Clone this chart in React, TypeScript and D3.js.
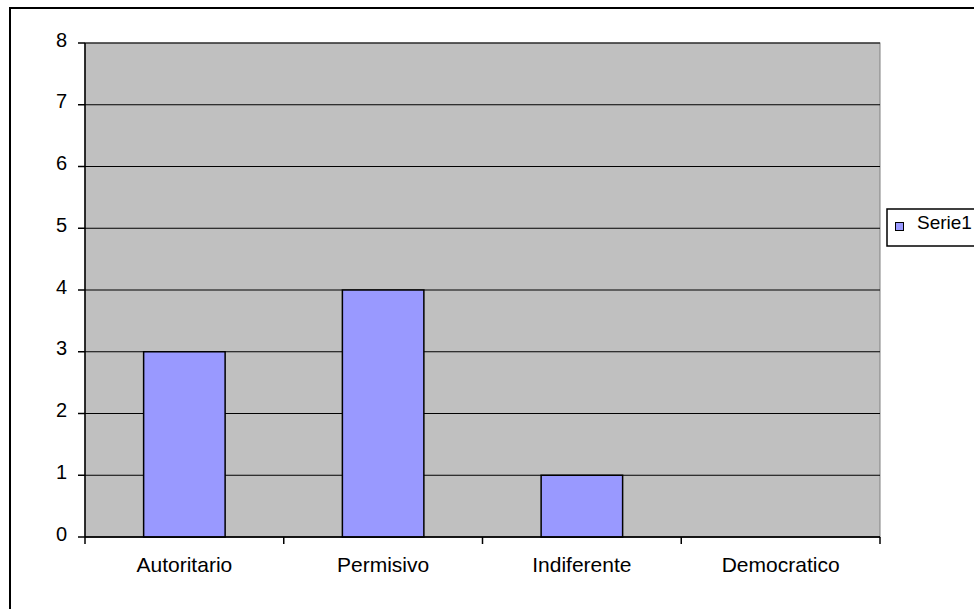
import React from "react";
import * as d3 from "d3";

const categories = ["Autoritario", "Permisivo", "Indiferente", "Democratico"];
const values = [3, 4, 1, 0];
const yTicks = [0, 1, 2, 3, 4, 5, 6, 7, 8];
const seriesName = "Serie1";

export default function App() {
  const W = 974, H = 609;
  const left = 85, right = 880, top = 43, bottom = 537;
  const x = d3.scaleBand<string>().domain(categories).range([left, right]).paddingInner(0).paddingOuter(0);
  const y = d3.scaleLinear().domain([0, 8]).range([bottom, top]);
  const bw = x.bandwidth() * 0.41;
  const font = "Liberation Sans, Arial, sans-serif";
  const boundaries = [...categories.map((c) => x(c) as number), right];
  return (
    <svg width={W} height={H} style={{ position: "absolute", left: 0, top: 0, background: "#fff" }} fontFamily={font}>
      <rect x={10} y={8} width={1000} height={700} fill="#fff" stroke="#000" strokeWidth={2} />
      <rect x={left} y={top} width={right - left} height={bottom - top} fill="#C0C0C0" stroke="#808080" strokeWidth={1} />
      {yTicks.map((t) => (
        <line key={"g" + t} x1={left} x2={right} y1={y(t)} y2={y(t)} stroke="#000" strokeWidth={1.2} />
      ))}
      {categories.map((c, i) => {
        const cx = (x(c) as number) + x.bandwidth() / 2;
        return values[i] > 0 ? (
          <rect key={c} x={cx - bw / 2} y={y(values[i])} width={bw} height={y(0) - y(values[i])} fill="#9999FF" stroke="#000" strokeWidth={1.5} />
        ) : null;
      })}
      <line x1={left} x2={left} y1={top} y2={bottom} stroke="#000" strokeWidth={1.5} />
      <line x1={left} x2={right} y1={bottom} y2={bottom} stroke="#000" strokeWidth={1.5} />
      {yTicks.map((t) => (
        <g key={"t" + t}>
          <line x1={left - 7} x2={left} y1={y(t)} y2={y(t)} stroke="#000" strokeWidth={1.5} />
          <text x={67} y={y(t) + 3.5} textAnchor="end" fontSize={20}>{t}</text>
        </g>
      ))}
      {boundaries.map((b, i) => (
        <line key={"b" + i} x1={b} x2={b} y1={bottom} y2={bottom + 7} stroke="#000" strokeWidth={1.5} />
      ))}
      {categories.map((c) => (
        <text key={"l" + c} x={(x(c) as number) + x.bandwidth() / 2} y={572} textAnchor="middle" fontSize={21}>{c}</text>
      ))}
      <rect x={887} y={209} width={100} height={37} fill="#fff" stroke="#000" strokeWidth={1.5} />
      <rect x={895.5} y={222.5} width={8} height={8} fill="#9999FF" stroke="#000" strokeWidth={1} />
      <text x={917} y={229} fontSize={19}>{seriesName}</text>
    </svg>
  );
}
